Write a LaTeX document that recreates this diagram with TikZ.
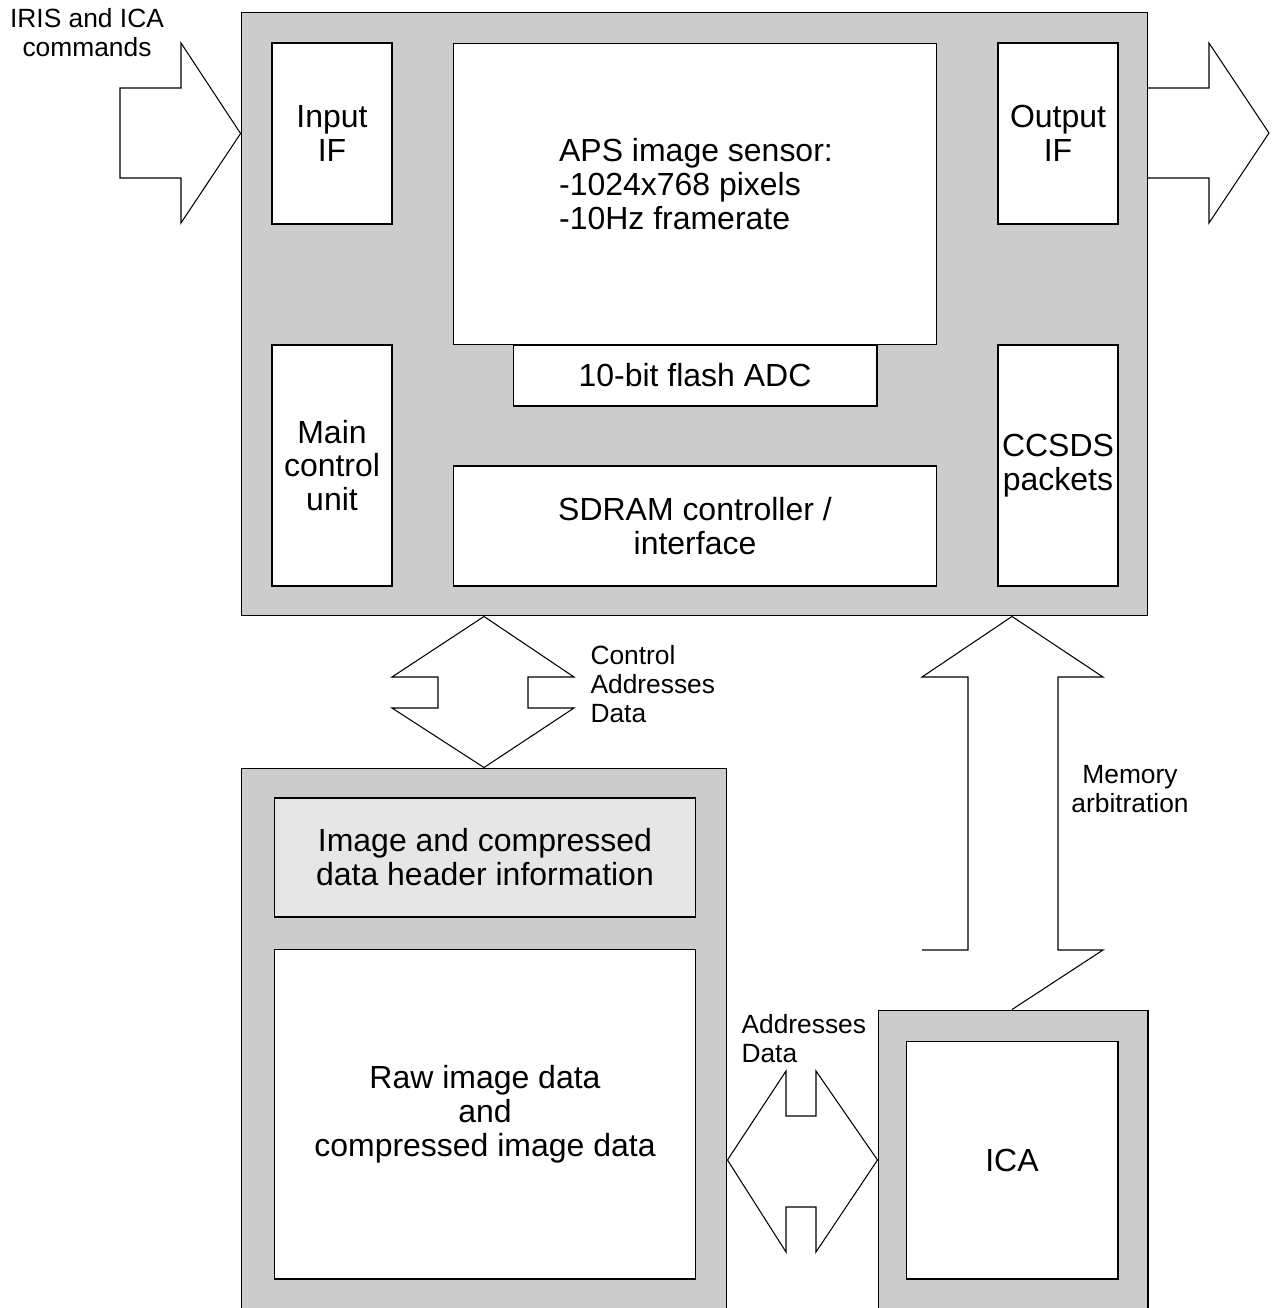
\documentclass[tikz,border=0pt]{standalone}
\usepackage{fontspec}
\setmainfont{Liberation Sans}
\usetikzlibrary{positioning}
\definecolor{boxgray}{HTML}{CCCCCC}
\definecolor{hdrgray}{HTML}{E6E6E6}
\newcommand{\bigtxt}{\fontsize{18.2}{19.3}\selectfont}
\newcommand{\smalltxt}{\fontsize{15}{16.5}\selectfont}

\begin{document}
\begin{tikzpicture}[x=0.02cm, y=-0.02cm, line width=0.6pt,
    block/.style={draw, fill=white, inner sep=0pt, align=center, font=\bigtxt},
    frame/.style={draw, fill=boxgray, inner sep=0pt},
    lbl/.style={inner sep=0pt, font=\smalltxt},
    bigarrow/.style={draw, fill=white, line join=miter}]
          \useasboundingbox (0,0) rectangle (1277,1308);
          % main unit
          \node[frame, minimum width=18.14cm, minimum height=12.08cm] (sys) at (694.5,314) {};
          \node[block, minimum width=2.4cm, minimum height=3.62cm] (inif) at (332,133.5) {Input\\IF};
          \node[block, minimum width=9.68cm, minimum height=6.04cm] (aps) at (695,194) {};
          \node[inner sep=0pt, align=left, font=\bigtxt] (apstxt) at (696,184) {APS image sensor:\\-1024x768 pixels\\-10Hz framerate};
          \node[block, minimum width=2.4cm, minimum height=3.62cm] (outif) at (1058,133.5) {Output\\IF};
          \node[block, minimum width=7.28cm, minimum height=1.22cm] (adc) at (695,375.5) {10-bit flash ADC};
          \node[block, minimum width=2.4cm, minimum height=4.82cm] (mcu) at (332,465.5) {Main\\control\\unit};
          \node[block, minimum width=9.68cm, minimum height=2.4cm] (sdram) at (695,526) {SDRAM controller /\\interface};
          \node[block, minimum width=2.4cm, minimum height=4.82cm] (ccsds) at (1058,465.5) {CCSDS\\packets};
          % memory
          \node[frame, minimum width=9.72cm, minimum height=11.2cm] (mem) at (484,1048) {};
          \node[block, fill=hdrgray, minimum width=8.44cm, minimum height=2.38cm] (hdr) at (485,857.5) {Image and compressed\\data header information};
          \node[block, minimum width=8.44cm, minimum height=6.6cm] (raw) at (485,1114) {Raw image data\\and\\compressed image data};
          % compressor
          \node[frame, minimum width=5.4cm, minimum height=6.36cm] (icabox) at (1013,1169) {};
          \node[block, minimum width=4.24cm, minimum height=4.76cm] (ica) at (1012,1160) {ICA};
          % block arrows
          \draw[bigarrow] (120,88) -- (181,88) -- (181,43) -- (sys.west |- inif.west) -- (181,223) -- (181,178) -- (120,178) -- cycle;
          \draw[bigarrow] (1148,88) -- (1209,88) -- (1209,43) -- (1269,133) -- (1209,223) -- (1209,178) -- (1148,178);
          \draw[bigarrow] (mem.north |- sys.south) -- (574,677) -- (528,677) -- (528,708) -- (574,708) -- (mem.north) -- (392,708) -- (438,708) -- (438,677) -- (392,677) -- cycle;
          \draw[bigarrow] (922,950) -- (968,950) -- (968,677) -- (922,677) -- (ica.north |- sys.south) -- (1103,677) -- (1058,677) -- (1058,950) -- (1103,950) -- (ica.north |- icabox.north);
          \draw[bigarrow] (mem.east |- ica.west) -- (786,1071) -- (786,1116) -- (816,1116) -- (816,1071) -- (icabox.west |- ica.west) -- (816,1252) -- (816,1207) -- (786,1207) -- (786,1252) -- cycle;
          % labels
          \node[lbl, align=center] (cmds) at (87,33) {IRIS and ICA\\commands};
          \node[lbl, align=left, anchor=west] (bus) at (590,684) {Control\\Addresses\\Data};
          \node[lbl, align=center] (arb) at (1130,789) {Memory\\arbitration};
          \node[lbl, align=left, anchor=west] (icabus) at (741,1039) {Addresses\\Data};
        \end{tikzpicture}
\end{document}
